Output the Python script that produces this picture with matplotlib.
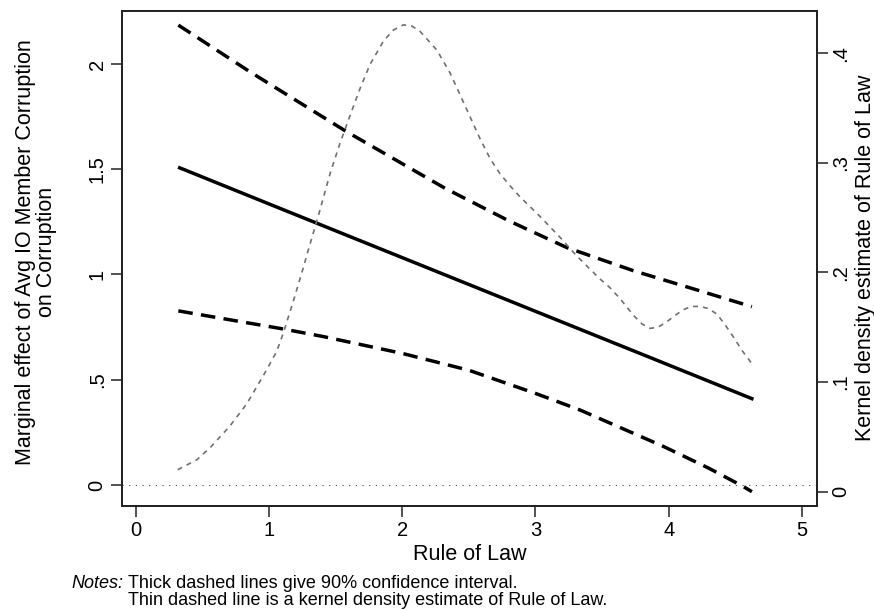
import numpy as np
import matplotlib
matplotlib.use('Agg')
import matplotlib.pyplot as plt

plt.rcParams['font.family'] = ['Liberation Sans', 'DejaVu Sans']

# Marginal effect and 90% CI (left axis)
me_x = [0.316, 1.0, 2.0, 3.0, 4.0, 4.637]
me_y = [1.51, 1.335, 1.08, 0.825, 0.57, 0.407]

ci_hi_x = [0.318, 0.856, 1.583, 2.32, 2.8, 3.235, 3.735, 4.2, 4.625]
ci_hi_y = [2.185, 1.963, 1.678, 1.41, 1.255, 1.128, 1.018, 0.929, 0.847]

ci_lo_x = [0.318, 1.107, 1.407, 2.0, 2.5, 3.0, 3.335, 3.961, 4.3, 4.562, 4.625]
ci_lo_y = [0.827, 0.741, 0.705, 0.625, 0.545, 0.435, 0.356, 0.183, 0.08, -0.008, -0.032]

# Kernel density of Rule of Law (right axis)
kd_x = [0.313, 0.456, 0.556, 0.706, 0.831, 0.957, 1.057, 1.107, 1.182, 1.258, 1.295,
        1.37, 1.457, 1.532, 1.607, 1.683, 1.758, 1.858, 1.93, 2.008, 2.07, 2.133, 2.259,
        2.359, 2.434, 2.509, 2.584, 2.659, 2.734, 2.809, 2.884, 3.035, 3.185, 3.31, 3.41,
        3.485, 3.56, 3.636, 3.735, 3.8, 3.861, 3.92, 3.986, 4.05, 4.111, 4.17, 4.236,
        4.3, 4.362, 4.42, 4.487, 4.55, 4.624]
kd_y = [0.020, 0.029, 0.040, 0.060, 0.080, 0.106, 0.128, 0.145, 0.174, 0.205, 0.221,
        0.252, 0.290, 0.318, 0.343, 0.368, 0.390, 0.411, 0.421, 0.426, 0.425, 0.420, 0.403,
        0.382, 0.362, 0.342, 0.322, 0.304, 0.290, 0.279, 0.269, 0.251, 0.232, 0.215, 0.203,
        0.194, 0.186, 0.176, 0.161, 0.153, 0.149, 0.150, 0.155, 0.161, 0.166, 0.169, 0.169,
        0.167, 0.162, 0.153, 0.141, 0.129, 0.117]

x_ticks = [0, 1, 2, 3, 4, 5]
left_ticks = [0, 0.5, 1, 1.5, 2]
left_labels = ['0', '.5', '1', '1.5', '2']
right_ticks = [0, 0.1, 0.2, 0.3, 0.4]
right_labels = ['0', '.1', '.2', '.3', '.4']


def draw():
    fig = plt.figure(figsize=(8.74, 6.1), dpi=100)
    ax = fig.add_axes([122 / 874, 1 - 506 / 610, 695 / 874, 495 / 610])
    ax2 = ax.twinx()

    # zero line, marginal effect, confidence band
    ax.axhline(0, color='#444444', lw=0.8, dashes=(1, 5))
    ax.plot(me_x, me_y, color='black', lw=2.5, solid_capstyle='butt')
    ax.plot(ci_hi_x, ci_hi_y, color='black', lw=2.5, dashes=(4.2, 2.4))
    ax.plot(ci_lo_x, ci_lo_y, color='black', lw=2.5, dashes=(4.2, 2.4))
    # kernel density on the right axis
    ax2.plot(kd_x, kd_y, color='#707070', lw=1.2, dashes=(3, 3))

    ax.set_xlim(-0.105, 5.114)
    ax.set_ylim(-0.1, 2.252)
    ax2.set_ylim(-0.0131, 0.4386)

    ax.set_xticks(x_ticks)
    ax.set_yticks(left_ticks, labels=left_labels)
    ax2.set_yticks(right_ticks, labels=right_labels)

    for a in (ax, ax2):
        a.tick_params(length=8, width=1.2, color='#333333', labelsize=14.5, pad=3)
        for s in a.spines.values():
            s.set_linewidth(1.3)
            s.set_color('#222222')
    ax2.tick_params(axis='y', pad=2)
    for lab in ax.get_yticklabels() + ax2.get_yticklabels():
        lab.set_rotation(90)
        lab.set_va('center')

    fig.text(36 / 874, 1 - 252 / 610,
             'Marginal effect of Avg IO Member Corruption\non Corruption',
             rotation=90, ha='center', va='center', fontsize=15.5,
             multialignment='center', linespacing=1.0)
    fig.text(865 / 874, 1 - 258 / 610, 'Kernel density estimate of Rule of Law',
             rotation=90, ha='center', va='center', fontsize=15.5)
    fig.text(470 / 874, 1 - 560 / 610, 'Rule of Law', ha='center', va='baseline',
             fontsize=15.5)

    fig.text(71 / 874, 1 - 588 / 610, 'Notes:', style='italic', ha='left',
             va='baseline', fontsize=13)
    fig.text(128 / 874, 1 - 588 / 610, 'Thick dashed lines give 90% confidence interval.',
             ha='left', va='baseline', fontsize=13)
    fig.text(128 / 874, 1 - 605 / 610,
             'Thin dashed line is a kernel density estimate of Rule of Law.',
             ha='left', va='baseline', fontsize=13)

    fig.savefig('out.png', dpi=100)
    plt.close(fig)


if __name__ == '__main__':
    draw()
